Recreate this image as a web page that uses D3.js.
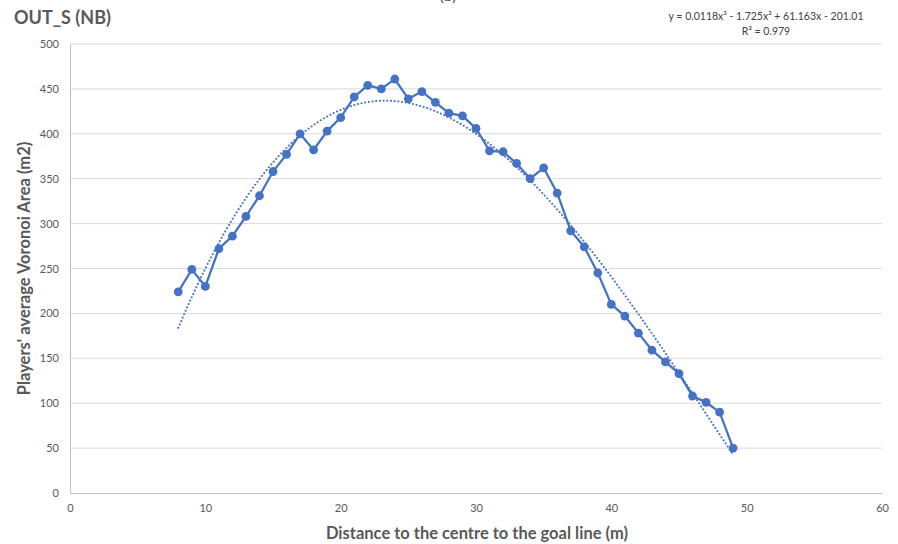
<!DOCTYPE html>
<html>
<head>
<meta charset="utf-8">
<script src="https://cdn.jsdelivr.net/npm/d3@7"></script>
<style>
  body { margin: 0; background: #fff; }
  text { font-family: Lato, "Open Sans", sans-serif; }
</style>
</head>
<body>
<div id="chart"></div>
<script>
const distances = [8, 9, 10, 11, 12, 13, 14, 15, 16, 17, 18, 19, 20, 21, 22, 23, 24, 25, 26, 27, 28,
  29, 30, 31, 32, 33, 34, 35, 36, 37, 38, 39, 40, 41, 42, 43, 44, 45, 46, 47, 48, 49];
const voronoiArea = [224, 249, 230, 272, 286, 308, 331, 358, 377, 400, 382, 403, 418, 441, 454, 450, 461, 439, 447, 435, 423,
  420, 406, 381, 380, 367, 350, 362, 334, 292, 274, 245, 210, 197, 178, 159, 146, 133, 108, 101, 90, 50];
// cubic trendline coefficients as shown on the chart (x^3, x^2, x, const)
const trendCoef = [0.0118, -1.725, 61.163, -201.01];
const xTicks = [0, 10, 20, 30, 40, 50, 60];
const yTicks = [0, 50, 100, 150, 200, 250, 300, 350, 400, 450, 500];

const width = 898, height = 544;
const margin = {top: 44, right: 16, bottom: 51, left: 70};
const blue = "#4472C4";

const svg = d3.select("#chart").append("svg")
  .attr("width", width)
  .attr("height", height);

let x = d3.scaleLinear().domain([0, 60]).range([margin.left, width - margin.right]);
let y = d3.scaleLinear().domain([0, 500]).range([height - margin.bottom, margin.top]);

// gridlines
svg.append("g")
  .selectAll("line")
  .data(yTicks.filter(d => d > 0))
  .enter().append("line")
  .attr("x1", x(0)).attr("x2", x(60))
  .attr("y1", d => y(d)).attr("y2", d => y(d))
  .attr("stroke", "#d9d9d9")
  .attr("stroke-width", 1);

// axes
let xAxis = svg.append("g")
  .attr("transform", `translate(0,${y(0)})`)
  .call(d3.axisBottom(x).tickValues(xTicks).tickSize(0).tickPadding(11));
let yAxis = svg.append("g")
  .attr("transform", `translate(${x(0)},0)`)
  .call(d3.axisLeft(y).tickValues(yTicks).tickSize(0).tickPadding(11));
[xAxis, yAxis].forEach(a => {
  a.select(".domain").attr("stroke", "#bfbfbf");
  a.selectAll("text").attr("fill", "#595959").style("font-size", "11px")
    .style("font-family", "Lato, 'Open Sans', sans-serif");
});

// trendline
let trendX = d3.range(distances[0], distances[distances.length - 1] + 0.01, 0.25);
let poly = v => trendCoef[0] * v * v * v + trendCoef[1] * v * v + trendCoef[2] * v + trendCoef[3];
svg.append("path")
  .datum(trendX)
  .attr("fill", "none")
  .attr("stroke", blue)
  .attr("stroke-width", 2)
  .attr("stroke-linecap", "round")
  .attr("stroke-dasharray", "0.1,3.6")
  .attr("d", d3.line().x(d => x(d)).y(d => y(poly(d))));

// data line
let data = distances.map((d, i) => ({x: d, y: voronoiArea[i]}));
svg.append("path")
  .datum(data)
  .attr("fill", "none")
  .attr("stroke", blue)
  .attr("stroke-width", 2.25)
  .attr("d", d3.line().x(d => x(d.x)).y(d => y(d.y)));

svg.append("g")
  .selectAll("circle")
  .data(data)
  .enter().append("circle")
  .attr("cx", d => x(d.x))
  .attr("cy", d => y(d.y))
  .attr("r", 4.4)
  .attr("fill", blue);

// titles
svg.append("text")
  .attr("x", 14).attr("y", 24)
  .attr("fill", "#595959")
  .style("font-size", "18px").style("font-weight", "bold")
  .text("OUT_S (NB)");

svg.append("text")
  .attr("x", 448).attr("y", 1)
  .attr("text-anchor", "middle")
  .attr("fill", "#595959")
  .style("font-size", "16px")
  .text("(b)");

svg.append("text")
  .attr("x", 477).attr("y", 539)
  .attr("text-anchor", "middle")
  .attr("fill", "#595959")
  .style("font-size", "16.5px").style("font-weight", "bold")
  .text("Distance to the centre to the goal line (m)");

svg.append("text")
  .attr("transform", `translate(30,${(y(0) + y(500)) / 2}) rotate(-90)`)
  .attr("text-anchor", "middle")
  .attr("fill", "#595959")
  .style("font-size", "16.5px").style("font-weight", "bold")
  .text("Players' average Voronoi Area (m2)");

// equation label
let eq = svg.append("g").attr("fill", "#404040").style("font-size", "10.5px");
eq.append("text")
  .attr("x", 766).attr("y", 20)
  .attr("text-anchor", "middle")
  .text("y = 0.0118x³ - 1.725x² + 61.163x - 201.01");
eq.append("text")
  .attr("x", 766).attr("y", 35)
  .attr("text-anchor", "middle")
  .text("R² = 0.979");
</script>
</body>
</html>
